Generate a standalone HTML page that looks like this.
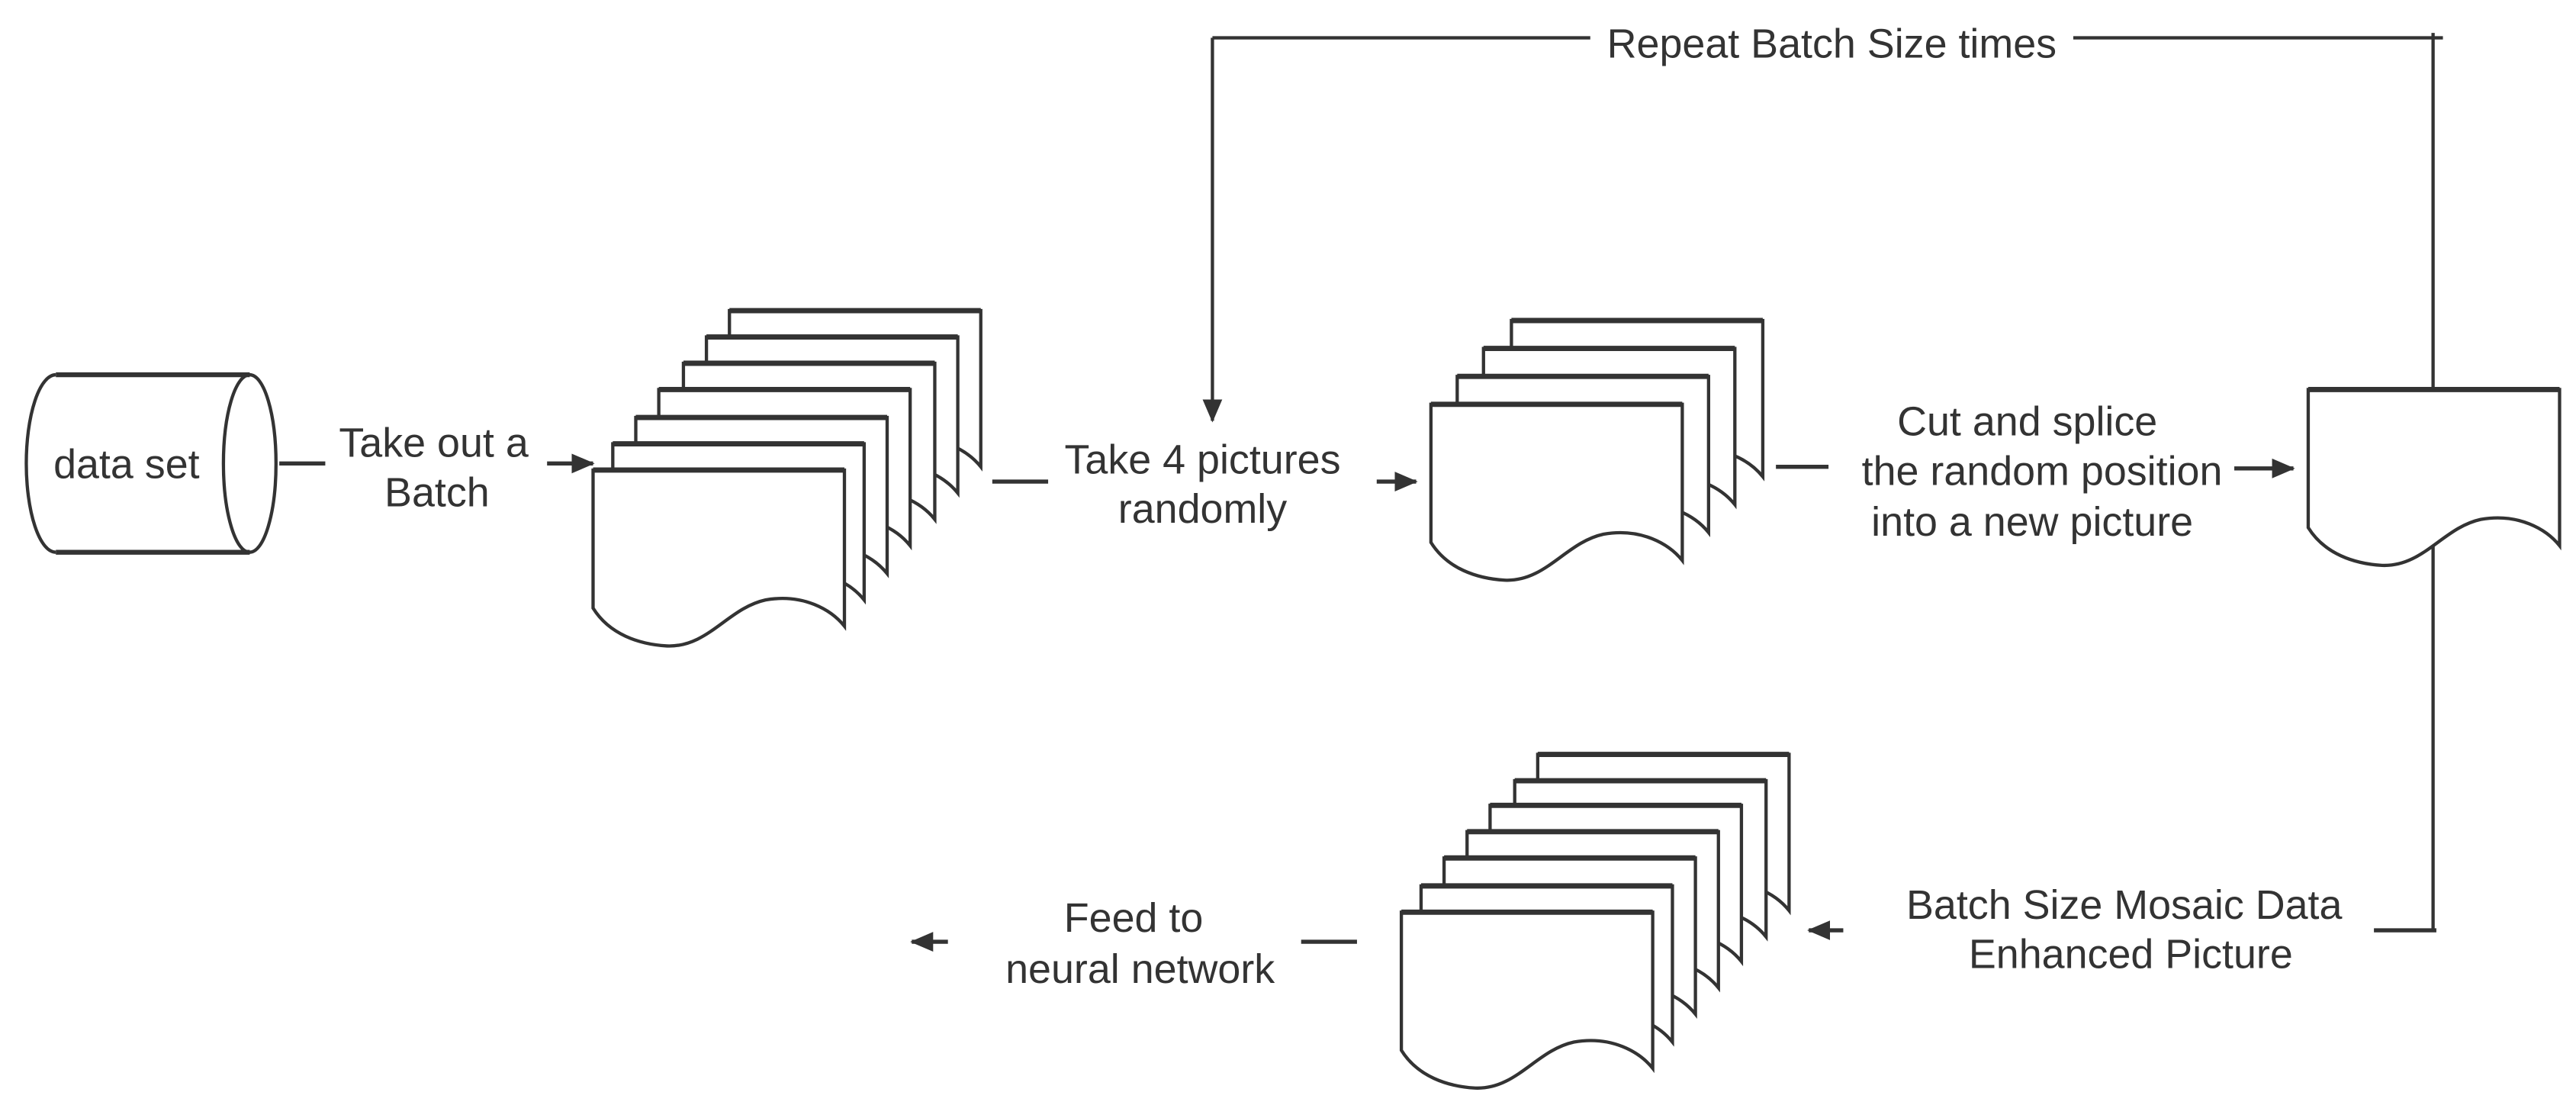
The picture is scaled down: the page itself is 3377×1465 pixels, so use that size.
<!DOCTYPE html>
<html><head><meta charset="utf-8"><style>html,body{margin:0;padding:0;background:#fff}svg{display:block}</style></head>
<body>
<svg width="3377" height="1465" viewBox="0 0 1568 680.2" xmlns="http://www.w3.org/2000/svg">
<defs>
<marker id="ah" markerWidth="14" markerHeight="14" refX="13" refY="7" orient="auto" markerUnits="userSpaceOnUse">
<path d="M0,1 L14,7 L0,13 Z" fill="#333"/>
</marker>
<symbol id="doc" overflow="visible">
<path d="M0,0 H153 V95 C145,85 128,75 105,79 C82,84 70,108 45,107 C28,106 10,100 0,84 Z" fill="#fff" stroke="#333" stroke-width="2"/>
<line x1="0" y1="0" x2="153" y2="0" stroke="#333" stroke-width="3.2"/>
</symbol>
</defs>
<g font-family="Liberation Sans, DejaVu Sans, sans-serif" font-size="25" fill="#333" text-anchor="middle">
<!-- cylinder -->
<path d="M34,228 H152 M34,336 H152" stroke="#333" stroke-width="3"/>
<path d="M34,228 A18,54 0 0 0 34,336" fill="none" stroke="#333" stroke-width="2"/>
<ellipse cx="152" cy="282" rx="16" ry="54" fill="none" stroke="#333" stroke-width="2"/>
<text x="77" y="291">data set</text>
<!-- arrow 1 -->
<line x1="170" y1="282" x2="198" y2="282" stroke="#333" stroke-width="2.5"/>
<text x="264" y="278">Take out a</text>
<text x="266" y="308">Batch</text>
<line x1="333" y1="282" x2="361" y2="282" stroke="#333" stroke-width="2.5" marker-end="url(#ah)"/>
<!-- stack 1 -->
<use href="#doc" x="444" y="189"/>
<use href="#doc" x="430" y="205"/>
<use href="#doc" x="416" y="221"/>
<use href="#doc" x="401" y="237"/>
<use href="#doc" x="387" y="254"/>
<use href="#doc" x="373" y="270"/>
<use href="#doc" x="361" y="286"/>
<!-- arrow 2 -->
<line x1="604" y1="293" x2="638" y2="293" stroke="#333" stroke-width="2.5"/>
<text x="732" y="288">Take 4 pictures</text>
<text x="732" y="318">randomly</text>
<line x1="838" y1="293" x2="862" y2="293" stroke="#333" stroke-width="2.5" marker-end="url(#ah)"/>
<!-- stack 2 -->
<use href="#doc" x="920" y="195"/>
<use href="#doc" x="903" y="212"/>
<use href="#doc" x="887" y="229"/>
<use href="#doc" x="871" y="246"/>
<!-- arrow 3 -->
<line x1="1081" y1="284" x2="1113" y2="284" stroke="#333" stroke-width="2.5"/>
<text x="1234" y="265">Cut and splice</text>
<text x="1243" y="295">the random position</text>
<text x="1237" y="326">into a new picture</text>
<line x1="1360" y1="285" x2="1396" y2="285" stroke="#333" stroke-width="2.5" marker-end="url(#ah)"/>
<!-- right doc & loop -->
<line x1="1481" y1="20" x2="1481" y2="237" stroke="#333" stroke-width="2"/>
<line x1="1481" y1="330" x2="1481" y2="566" stroke="#333" stroke-width="2"/>
<use href="#doc" x="1405" y="237"/>
<line x1="738" y1="23" x2="968" y2="23" stroke="#333" stroke-width="2"/>
<line x1="1262" y1="23" x2="1487" y2="23" stroke="#333" stroke-width="2"/>
<text x="1115" y="35">Repeat Batch Size times</text>
<line x1="738" y1="23" x2="738" y2="256" stroke="#333" stroke-width="2" marker-end="url(#ah)"/>
<!-- bottom -->
<line x1="1445" y1="566" x2="1483" y2="566" stroke="#333" stroke-width="2.5"/>
<text x="1293" y="559">Batch Size Mosaic Data</text>
<text x="1297" y="589">Enhanced Picture</text>
<line x1="1122" y1="566" x2="1101" y2="566" stroke="#333" stroke-width="2.5" marker-end="url(#ah)"/>
<use href="#doc" x="936" y="459"/>
<use href="#doc" x="922" y="475"/>
<use href="#doc" x="907" y="490"/>
<use href="#doc" x="893" y="506"/>
<use href="#doc" x="879" y="522"/>
<use href="#doc" x="865" y="539"/>
<use href="#doc" x="853" y="555"/>
<line x1="792" y1="573" x2="826" y2="573" stroke="#333" stroke-width="2.5"/>
<text x="690" y="567">Feed to</text>
<text x="694" y="598">neural network</text>
<line x1="577" y1="573" x2="555" y2="573" stroke="#333" stroke-width="2.5" marker-end="url(#ah)"/>
</g>
</svg>
</body></html>
